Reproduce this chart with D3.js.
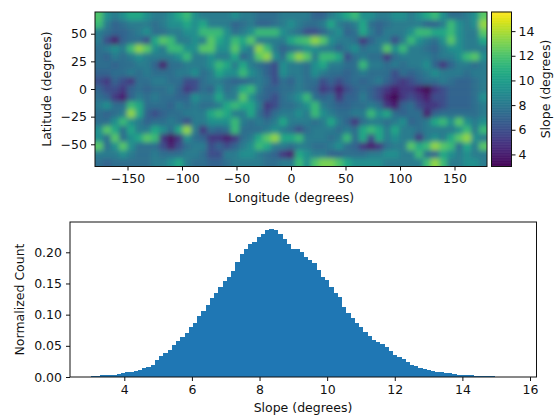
<!DOCTYPE html>
<html>
<head>
<meta charset="utf-8">
<script src="https://cdn.jsdelivr.net/npm/d3@7"></script>
<style>
  html, body { margin: 0; padding: 0; background: #fff; }
  svg { display: block; }
  text { font-family: "DejaVu Sans", sans-serif; font-size: 12.5px; fill: #111; }
  .tick text { font-size: 12.5px; }
  .domain, .tick line { stroke: #111; stroke-width: 1px; }
</style>
</head>
<body>
<svg id="chart" width="554" height="416"></svg>
<script>
// slope map, rows go from north to south, columns from -180 to 180
var slopeGrid = [
  [12,9.2,8.2,9.2,10.5,10.5,9.2,8.2,8.2,9.2,10.5,11.5,9.2,8.2,8.2,8.2, 8.2,9.2,8.2,8.2,7.5,7.5,7.5,8.2,8.2,8.2,8.2,7,7,8.2,9.2,10.5,11.5, 9.2,9.2,8.2,8.2,9.2,9.2,8.2,9.2,10.5,11.5,9.2,7.5,7.5,8.2,9.2,12.3],
  [11.5,8.2,7,7.5,8.2,8.2,8.2,7.5,8.2,9.2,9.2,10.5,9.2,10.5,8.2,8.2, 8.2,7,7.5,8.2,7,7,7.5,8.2,9.2,8.2,7.5,7.5,8.2,10.5,8.2,7.5,8.2, 10.5,7.5,7,7.5,8.2,8.2,8.2,8.2,7,7,8.2,11.5,9.2,8.2,9.2,13.5],
  [8.2,7.5,7,7,7.5,8.2,9.2,7.5,7.5,8.2,8.2,9.2,9.2,11.5,11.5,11.5, 9.2,7.5,8.2,9.2,11.5,11.5,11.5,9.2,8.2,7.5,6,6,7,8.2,9.2,7,7.5, 10.5,8.2,7,8.2,8.2,8.2,9.2,11.5,11.5,10.5,10.5,11.5,9.2,8.2,8.2,12.3],
  [8.2,6,4,7,7.5,7.5,6,10.5,12.3,11.5,8.2,8.2,9.2,8.2,12.3,10.5, 9.2,11.5,10.5,12.3,8.2,8.2,8.2,8.2,10.5,11.5,12,13.5,12.3,9.2,8.2,8.2,7.5, 5,7,8.2,8.2,6,8.2,11.5,9.2,8.2,7.5,9.2,12.3,9.2,8.2,8.2,10.5],
  [7.5,8.2,9.2,8.2,11.5,13.5,12.3,9.2,8.2,11.5,11.5,9.2,9.2,12.3,12.3,9.2, 9.2,12.3,9.2,8.2,13.5,11.5,8.2,7,7.5,8.2,9.2,9.2,8.2,8.2,7,8.2,9.2, 7.5,8.2,8.2,12.3,9.2,11.5,8.2,8.2,7.5,7,8.2,9.2,9.2,8.2,8.2,8.2],
  [7.5,7,8.2,7.5,8.2,9.2,8.2,8.2,8.2,8.2,9.2,11.5,8.2,8.2,9.2,8.2, 8.2,10.5,7,8.2,12.3,13.5,9.2,7.5,11.5,13.5,12.3,8.2,11.5,11.5,10.5,6,7.5, 8.2,7.5,7.5,5,7.5,8.2,8.2,8.2,8.2,7.5,8.2,8.2,9.2,11.5,12.3,9.2],
  [7.5,7.5,7,7.5,7.5,8.2,8.2,7,4,7.5,7.5,8.2,8.2,8.2,9.2,11.5, 10.5,8.2,10.5,8.2,7.5,7,6,9.2,8.2,8.2,7.5,9.2,10.5,8.2,8.2,7.5,7.5, 11.5,8.2,8.2,7.5,8.2,7.5,8.2,8.2,9.2,7,5,7,8.2,8.2,7.5,8.2],
  [7,7,7.5,7.5,8.2,7.5,8.2,7.5,7.5,7.5,8.2,8.2,9.2,7.5,8.2,10.5, 9.2,9.2,11.5,9.2,8.2,7,6,9.2,8.2,8.2,7.5,9.2,8.2,7.5,7.5,7,7.5, 8.2,7.5,7.5,7.5,6,7.5,7,7.5,8.2,9.2,8.2,8.2,8.2,7.5,8.2,8.2],
  [6,5,7,6,5,7.5,7.5,8.2,8.2,7.5,7.5,6,6,7.5,8.2,8.2, 7.5,7,7,7.5,8.2,7.5,6,7.5,7,8.2,7.5,7.5,6,7,6,7,7.5, 7,7.5,8.2,7,6,5,6,7,7.5,7.5,8.2,7.5,7,7,7.5,8.2],
  [7,6,6,5,7,7.5,7,7.5,7.5,8.2,7,5,6,7.5,7,9.2, 7.5,8.2,10.5,11.5,8.2,7,7,7.5,7.5,8.2,7.5,7,5,6,4,6,7, 7.5,7,6,5,4,5,5,4,3,5,6,7,7,7,7.5,8.2],
  [7.5,7,5,4,7,8.2,7.5,8.2,7.5,7.5,7,7,9.2,8.2,8.2,10.5, 8.2,8.2,12.3,9.2,7.5,7,6,7.5,8.2,9.2,11.5,7.5,7,7.5,5,7,7, 8.2,7,6,4,3,5,6,5,4,6,6,7,7,7,7.5,9.2],
  [8.2,9.2,7.5,7.5,11.5,10.5,7.5,7.5,7.5,7,8.2,7.5,8.2,7.5,7.5,8.2, 10.5,11.5,10.5,10.5,8.2,5,6,7.5,7.5,8.2,9.2,11.5,8.2,7.5,7,7,7.5, 7.5,8.2,7.5,5,4,7,7.5,6,5,5,6,7,7,7,7.5,8.2],
  [7.5,7,7.5,8.2,13.5,10.5,7,6,7,7.5,7.5,8.2,8.2,8.2,10.5,11.5, 10.5,8.2,8.2,10.5,7.5,6,7.5,8.2,8.2,9.2,8.2,11.5,9.2,8.2,7.5,7.5,8.2, 8.2,11.5,9.2,10.5,7.5,7,7.5,7.5,4,7,7.5,7.5,7.5,7.5,7.5,8.2],
  [7.5,7.5,9.2,11.5,9.2,8.2,7,7.5,7.5,8.2,7.5,6,8.2,8.2,9.2,9.2, 9.2,11.5,8.2,7.5,8.2,7.5,8.2,10.5,8.2,8.2,8.2,7.5,8.2,10.5,8.2,7,5, 7.5,8.2,8.2,7.5,8.2,9.2,7,7.5,8.2,10.5,11.5,9.2,12.3,9.2,8.2,9.2],
  [9.2,12.3,10.5,7.5,10.5,8.2,8.2,10.5,9.2,7.5,10.5,13.5,8.2,5,7.5,7, 7.5,11.5,7.5,7.5,7.5,8.2,9.2,8.2,7.5,6,7.5,8.2,8.2,8.2,7.5,8.2,7.5, 10.5,11.5,10.5,8.2,10.5,8.2,8.2,7.5,8.2,8.2,8.2,8.2,9.2,11.5,8.2,11.5],
  [9.2,7.5,12.3,7.5,9.2,10.5,12.3,11.5,5,3.5,5,9.2,7.5,7,5,5, 4,5,7.5,8.2,10.5,12.3,13.5,10.5,10.5,11.5,8.2,8.2,8.2,7.5,8.2,11.5,7.5, 10.5,6,10.5,8.2,9.2,8.2,8.2,5,8.2,9.2,8.2,10.5,12.3,13.5,9.2,8.2],
  [12.3,7.5,9.2,12.3,9.2,7.5,7.5,7.5,6,4,6,7.5,8.2,8.2,6,7, 6,7,8.2,9.2,11.5,10.5,8.2,8.2,7.5,8.2,8.2,7.5,7.5,8.2,9.2,7.5,7, 5,4,5,7.5,8.2,8.2,12.3,10.5,11.5,13.5,12.3,11.5,7.5,10.5,8.2,12.3],
  [8.2,8.2,8.2,9.2,8.2,7.5,7.5,8.2,7.5,7.5,7.5,8.2,8.2,7.5,6,6, 8.2,8.2,9.2,9.2,8.2,7.5,7,5,4,10.5,9.2,8.2,8.2,7,7,7.5,7.5, 7.5,8.2,8.2,9.2,9.2,8.2,8.2,11.5,7.5,7,10.5,9.2,8.2,9.2,8.2,8.2],
  [7.5,7,7.5,7.5,7.5,7.5,7.5,8.2,8.2,9.2,10.5,8.2,7.5,7.5,7,7, 7.5,8.2,8.2,8.2,8.2,7.5,7.5,8.2,8.2,11.5,9.2,12,13,13,12,10.5,9.2, 9.2,9.2,9.2,8.2,8.2,8.2,8.2,8.2,11.5,13.5,11.5,8.2,8.2,9.2,9.2,8.2]
];

var slopeRange = [3.02, 15.55];
var lonTicks = [-150, -100, -50, 0, 50, 100, 150];
var latTicks = [50, 25, 0, -25, -50];
var colorbarTicks = [4, 6, 8, 10, 12, 14];

// histogram of the slopes above
var histStart = 3.02;
var histBinWidth = 0.1255;
var histValues = [
  0.0015, 0.002, 0.0027, 0.003, 0.0035, 0.004, 0.0055, 0.0065, 0.008, 0.0085,
  0.010, 0.012, 0.0145, 0.016, 0.019, 0.027, 0.034, 0.038, 0.044, 0.051,
  0.057, 0.064, 0.071, 0.080, 0.087, 0.098, 0.106, 0.115, 0.126, 0.134,
  0.145, 0.154, 0.161, 0.170, 0.184, 0.197, 0.205, 0.213, 0.217, 0.224,
  0.230, 0.235, 0.237, 0.236, 0.229, 0.221, 0.214, 0.206, 0.205, 0.200,
  0.193, 0.187, 0.183, 0.171, 0.161, 0.155, 0.145, 0.135, 0.128, 0.112,
  0.102, 0.095, 0.087, 0.080, 0.072, 0.065, 0.060, 0.056, 0.053, 0.048,
  0.042, 0.035, 0.032, 0.029, 0.0245, 0.020, 0.017, 0.0144, 0.0128, 0.0112,
  0.0096, 0.0085, 0.0075, 0.0068, 0.0058, 0.0048, 0.0037, 0.003, 0.0027, 0.0025,
  0.0016, 0.0014, 0.0012, 0.001, 0.0009
];
var histXTicks = [4, 6, 8, 10, 12, 14, 16];
var histYTicks = [0, 0.05, 0.10, 0.15, 0.20];

var MAP = { left: 95, right: 487, top: 12, bottom: 166.5 };
var BAR = { left: 491.5, right: 511.5 };
var HIST = { left: 70, right: 536.5, top: 222, bottom: 377 };

var svg = d3.select('#chart');
var defs = svg.append('defs');

defs.append('clipPath').attr('id', 'mapClip')
  .append('rect')
  .attr('x', MAP.left).attr('y', MAP.top)
  .attr('width', MAP.right - MAP.left).attr('height', MAP.bottom - MAP.top);

// the map is smooth in the original, so blur the cells together
defs.append('filter').attr('id', 'smooth')
  .attr('filterUnits', 'userSpaceOnUse')
  .attr('x', 60).attr('y', -20).attr('width', 460).attr('height', 220)
  .append('feGaussianBlur').attr('stdDeviation', 2.4);

var color = d3.scaleSequential(d3.interpolateViridis).domain(slopeRange);

function drawMap() {
  var rows = d3.range(slopeGrid.length);
  var cols = d3.range(slopeGrid[0].length);
  var colBand = d3.scaleBand().domain(cols).range([MAP.left, MAP.right]);
  var rowBand = d3.scaleBand().domain(rows).range([MAP.top, MAP.bottom]);
  var lon = d3.scaleLinear().domain([-180, 180]).range([94.8, 487.2]);
  var lat = d3.scaleLinear().domain([-70, 70]).range([166.4, 11.6]);
  var pad = 20;

  var cells = [];
  rows.forEach(function (r) {
    cols.forEach(function (c) {
      cells.push({ r: r, c: c, v: slopeGrid[r][c] });
    });
  });

  var g = svg.append('g').attr('clip-path', 'url(#mapClip)')
    .append('g').attr('filter', 'url(#smooth)');

  // edge cells run past the frame so the blur does not fade at the border
  g.selectAll('rect').data(cells).enter().append('rect')
    .attr('x', function (d) { return colBand(d.c) - (d.c == 0 ? pad : 0); })
    .attr('y', function (d) { return rowBand(d.r) - (d.r == 0 ? pad : 0); })
    .attr('width', function (d) {
      return colBand.bandwidth() + (d.c == 0 || d.c == cols.length - 1 ? pad : 0) + 0.5;
    })
    .attr('height', function (d) {
      return rowBand.bandwidth() + (d.r == 0 || d.r == rows.length - 1 ? pad : 0) + 0.5;
    })
    .attr('fill', function (d) { return color(d.v); });

  svg.append('rect')
    .attr('x', MAP.left).attr('y', MAP.top)
    .attr('width', MAP.right - MAP.left).attr('height', MAP.bottom - MAP.top)
    .attr('fill', 'none').attr('stroke', '#111');

  svg.append('g')
    .attr('transform', 'translate(0,' + MAP.bottom + ')')
    .call(d3.axisBottom(lon).tickValues(lonTicks).tickSize(4).tickSizeOuter(0).tickPadding(4))
    .select('.domain').remove();

  svg.append('g')
    .attr('transform', 'translate(' + MAP.left + ',0)')
    .call(d3.axisLeft(lat).tickValues(latTicks).tickSize(4).tickSizeOuter(0).tickPadding(4))
    .select('.domain').remove();

  svg.append('text').attr('x', 291).attr('y', 202)
    .attr('text-anchor', 'middle').text('Longitude (degrees)');
  svg.append('text').attr('transform', 'translate(51,89) rotate(-90)')
    .attr('text-anchor', 'middle').text('Latitude (degrees)');
}

function drawColorbar() {
  var scale = d3.scaleLinear().domain(slopeRange).range([MAP.bottom, MAP.top]);
  var steps = d3.range(slopeRange[0], slopeRange[1], 0.05);

  svg.append('g').selectAll('rect').data(steps).enter().append('rect')
    .attr('x', BAR.left)
    .attr('y', function (d) { return scale(d + 0.05); })
    .attr('width', BAR.right - BAR.left)
    .attr('height', function (d) { return scale(d) - scale(d + 0.05) + 0.5; })
    .attr('fill', function (d) { return color(d); });

  svg.append('rect')
    .attr('x', BAR.left).attr('y', MAP.top)
    .attr('width', BAR.right - BAR.left).attr('height', MAP.bottom - MAP.top)
    .attr('fill', 'none').attr('stroke', '#111');

  svg.append('g')
    .attr('transform', 'translate(' + BAR.right + ',0)')
    .call(d3.axisRight(scale).tickValues(colorbarTicks).tickSize(4).tickSizeOuter(0).tickPadding(3))
    .select('.domain').remove();

  svg.append('text').attr('transform', 'translate(550,89) rotate(-90)')
    .attr('text-anchor', 'middle').text('Slope (degrees)');
}

function drawHist() {
  var x = d3.scaleLinear().domain([4, 16]).range([124.3, 530]);
  var y = d3.scaleLinear().domain([0, 0.20]).range([HIST.bottom, 252.3]);

  // crisp edges, otherwise the neighbouring bars show thin seams
  svg.append('g').attr('shape-rendering', 'crispEdges')
    .selectAll('rect').data(histValues).enter().append('rect')
    .attr('x', function (d, i) { return x(histStart + i * histBinWidth); })
    .attr('y', function (d) { return y(d); })
    .attr('width', x(histStart + histBinWidth) - x(histStart) + 0.6)
    .attr('height', function (d) { return HIST.bottom - y(d); })
    .attr('fill', '#1f77b4');

  svg.append('rect')
    .attr('x', HIST.left).attr('y', HIST.top)
    .attr('width', HIST.right - HIST.left).attr('height', HIST.bottom - HIST.top)
    .attr('fill', 'none').attr('stroke', '#111');

  svg.append('g')
    .attr('transform', 'translate(0,' + HIST.bottom + ')')
    .call(d3.axisBottom(x).tickValues(histXTicks).tickSize(4).tickSizeOuter(0).tickPadding(4))
    .select('.domain').remove();

  svg.append('g')
    .attr('transform', 'translate(' + HIST.left + ',0)')
    .call(d3.axisLeft(y).tickValues(histYTicks).tickFormat(d3.format('.2f')).tickSize(4).tickSizeOuter(0).tickPadding(4))
    .select('.domain').remove();

  svg.append('text').attr('x', 303).attr('y', 412)
    .attr('text-anchor', 'middle').text('Slope (degrees)');
  svg.append('text').attr('transform', 'translate(24,299.5) rotate(-90)')
    .attr('text-anchor', 'middle').text('Normalized Count');
}

drawMap();
drawColorbar();
drawHist();
</script>
</body>
</html>
